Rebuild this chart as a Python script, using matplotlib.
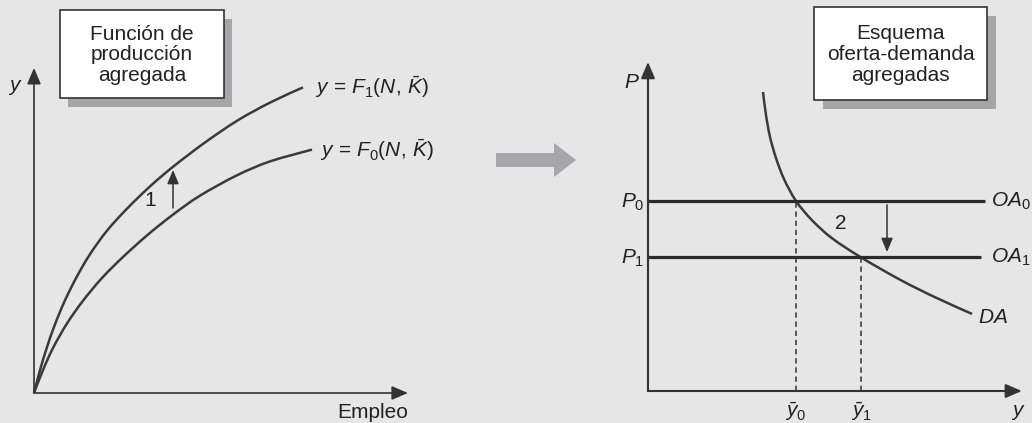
import numpy as np
import matplotlib
matplotlib.use("Agg")
import matplotlib.pyplot as plt
from matplotlib.patches import Rectangle, FancyArrow, PathPatch
from matplotlib.path import Path

plt.rcParams['font.family'] = ['Liberation Sans', 'DejaVu Sans']
plt.rcParams['mathtext.fontset'] = 'custom'
plt.rcParams['mathtext.rm'] = 'Liberation Sans'
plt.rcParams['mathtext.it'] = 'Liberation Sans:italic'
plt.rcParams['mathtext.bf'] = 'Liberation Sans:bold'

# ---------------- data ----------------
# Left panel: aggregate production functions (employment N -> output y)
N_f1 = [0, 0.158, 0.342, 0.553, 0.816, 1.132, 1.474, 1.921, 2.447, 3.053, 3.658, 4.474, 5.342, 6.211, 7.079]
y_f1 = [0, 0.691, 1.391, 2.082, 2.809, 3.536, 4.206, 4.918, 5.585, 6.261, 6.855, 7.570, 8.248, 8.800, 9.261]
N_f0 = [0, 0.237, 0.5, 0.868, 1.289, 1.789, 2.342, 2.974, 3.658, 4.368, 5.342, 6.211, 7.316]
y_f0 = [0, 0.697, 1.364, 2.106, 2.794, 3.485, 4.121, 4.776, 5.406, 5.979, 6.597, 7.018, 7.376]
labels_left = [r"$y\,=\,F_1(N,\,\bar{K})$", r"$y\,=\,F_0(N,\,\bar{K})$"]

# Right panel: aggregate supply / demand
P0, P1 = 5.76, 4.06
OA_end = [8.87, 8.76]
ybar = [3.89, 5.61]
DA_x = [3.026, 3.105, 3.211, 3.368, 3.579, 3.895, 4.316, 4.842, 5.605, 6.632, 7.553, 8.526]
DA_y = [9.061, 8.364, 7.697, 7.061, 6.424, 5.758, 5.176, 4.630, 4.050, 3.373, 2.842, 2.336]
labels_right = [r"$OA_0$", r"$OA_1$", r"$DA$"]
xtick_labels = [r"$\bar{y}_0$", r"$\bar{y}_1$"]
ytick_labels = [r"$P_0$", r"$P_1$"]

BG = '#e6e6e6'
DARK = '#333333'
CURVE = '#3a3a3a'
TXT = '#222222'
SHADOW = '#a6a6a8'
FS = 15

fig = plt.figure(figsize=(10.32, 4.23), dpi=100)
fig.patch.set_facecolor(BG)

# background axes in pixel coordinates (for boxes and the central arrow)
bg = fig.add_axes([0, 0, 1, 1])
bg.set_xlim(0, 1032)
bg.set_ylim(423, 0)
bg.axis('off')
bg.set_facecolor(BG)


def box(ax, x, y, w, h, txt, off=(8, 9)):
    ax.add_patch(Rectangle((x + off[0], y + off[1]), w, h, fc=SHADOW, ec='none', zorder=1))
    ax.add_patch(Rectangle((x, y), w, h, fc='white', ec=DARK, lw=1.2, zorder=2))
    ax.text(x + w / 2, y + h / 2 + 1, txt, ha='center', va='center', fontsize=FS,
            linespacing=1.12, color=TXT, zorder=3)


box(bg, 60, 10, 164, 88, "Función de\nproducción\nagregada")
box(bg, 814, 7, 173, 93, "Esquema\noferta-demanda\nagregadas", off=(9, 9))
bg.add_patch(FancyArrow(496, 160, 80, 0, width=14, head_width=34, head_length=22,
                        length_includes_head=True, fc=SHADOW, ec='none'))


def smooth_curve(ax, xs, ys, **kw):
    """Draw a smooth (Catmull-Rom / cubic Bezier) path through the given points."""
    pts = np.column_stack([xs, ys]).astype(float)
    n = len(pts)
    verts = [pts[0]]
    codes = [Path.MOVETO]
    for i in range(n - 1):
        p0 = pts[max(i - 1, 0)]
        p1 = pts[i]
        p2 = pts[i + 1]
        p3 = pts[min(i + 2, n - 1)]
        c1 = p1 + (p2 - p0) / 6.0
        c2 = p2 - (p3 - p1) / 6.0
        verts += [c1, c2, p2]
        codes += [Path.CURVE4] * 3
    ax.add_patch(PathPatch(Path(verts, codes), fill=False, capstyle='butt',
                           joinstyle='round', **kw))


def axis_arrows(ax, xt, yt, lw):
    kw = dict(arrowstyle='-|>,head_length=0.7,head_width=0.3', lw=lw, color=DARK,
              shrinkA=0, shrinkB=0, mutation_scale=14)
    ax.annotate('', xy=(xt, 0), xytext=(0, 0), arrowprops=kw, annotation_clip=False)
    ax.annotate('', xy=(0, yt), xytext=(0, 0), arrowprops=kw, annotation_clip=False)


# ---------------- left panel ----------------
axl = fig.add_axes([34 / 1032, (423 - 393) / 423, 380 / 1032, 330 / 423])
axl.set_xlim(0, 10)
axl.set_ylim(0, 10)
axl.axis('off')
axl.patch.set_alpha(0)
axis_arrows(axl, 9.84, 9.85, 1.2)
smooth_curve(axl, N_f1, y_f1, ec=CURVE, lw=1.8, clip_on=False)
smooth_curve(axl, N_f0, y_f0, ec=CURVE, lw=1.8, clip_on=False)
axl.text(N_f1[-1] + 0.32, y_f1[-1], labels_left[0], fontsize=FS, va='center', ha='left', color=TXT)
axl.text(N_f0[-1] + 0.22, y_f0[-1], labels_left[1], fontsize=FS, va='center', ha='left', color=TXT)
axl.text(-0.5, 9.27, r"$y$", fontsize=FS, ha='center', va='center', color=TXT)
axl.text(9.84, -0.58, "Empleo", fontsize=FS, ha='right', va='center', color=TXT)
axl.text(3.05, 5.82, "1", fontsize=FS, ha='center', va='center', color=TXT)
axl.annotate('', xy=(3.658, 6.76), xytext=(3.658, 5.606),
             arrowprops=dict(arrowstyle='-|>,head_length=0.6,head_width=0.25', lw=1.1,
                             color=DARK, shrinkA=0, shrinkB=0, mutation_scale=14))

# ---------------- right panel ----------------
axr = fig.add_axes([648 / 1032, (423 - 391) / 423, 380 / 1032, 330 / 423])
axr.set_xlim(0, 10)
axr.set_ylim(0, 10)
axr.axis('off')
axr.patch.set_alpha(0)
axis_arrows(axr, 9.84, 9.97, 1.5)
for P, xe in zip([P0, P1], OA_end):
    axr.plot([0, xe], [P, P], color='#2a2a2a', lw=2.3, solid_capstyle='butt')
for yb, P in zip(ybar, [P0, P1]):
    axr.plot([yb, yb], [0, P], color=DARK, lw=1.1, ls=(0, (3.5, 2.5)))
smooth_curve(axr, DA_x, DA_y, ec=CURVE, lw=1.8)
axr.text(9.03, P0, labels_right[0], fontsize=FS, ha='left', va='center', color=TXT, clip_on=False)
axr.text(9.03, P1, labels_right[1], fontsize=FS, ha='left', va='center', color=TXT, clip_on=False)
axr.text(DA_x[-1] + 0.15, DA_y[-1] - 0.12, labels_right[2], fontsize=FS, ha='left', va='center', color=TXT)
for yb, lab in zip(ybar, xtick_labels):
    axr.text(yb, -0.62, lab, fontsize=FS, ha='center', va='center', color=TXT)
for P, lab in zip([P0, P1], ytick_labels):
    axr.text(-0.1, P - 0.05, lab, fontsize=FS, ha='right', va='center', color=TXT)
axr.text(-0.42, 9.36, r"$P$", fontsize=FS, ha='center', va='center', color=TXT)
axr.text(9.74, -0.64, r"$y$", fontsize=FS, ha='center', va='center', color=TXT)
axr.text(5.08, 5.09, "2", fontsize=FS, ha='center', va='center', color=TXT)
axr.annotate('', xy=(6.29, 4.21), xytext=(6.29, 5.64),
             arrowprops=dict(arrowstyle='-|>,head_length=0.6,head_width=0.25', lw=1.1,
                             color=DARK, shrinkA=0, shrinkB=0, mutation_scale=14))

fig.savefig('out.png', dpi=100, facecolor=BG)
